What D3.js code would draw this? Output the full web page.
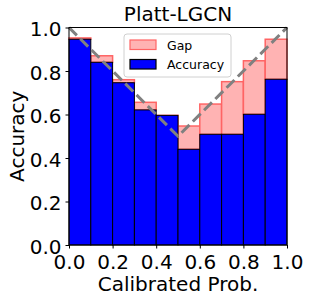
<!DOCTYPE html>
<html>
<head>
<meta charset="utf-8">
<script src="https://cdn.jsdelivr.net/npm/d3@7"></script>
<style>
  html, body { margin: 0; padding: 0; background: #fff; }
  svg text { font-family: "DejaVu Sans", sans-serif; fill: #000; }
</style>
</head>
<body>
<svg id="chart" width="309" height="301"></svg>
<script>
// bin lower edges, accuracy per bin, and bin confidence (top of the gap bar)
const binStarts = [0.0, 0.1, 0.2, 0.3, 0.4, 0.5, 0.6, 0.7, 0.8, 0.9];
const accuracy = [0.946, 0.840, 0.746, 0.621, 0.596, 0.440, 0.509, 0.509, 0.601, 0.762];
const confidence = [0.952, 0.870, 0.760, 0.656, 0.550, 0.547, 0.648, 0.751, 0.847, 0.946];
const tickValues = [0, 0.2, 0.4, 0.6, 0.8, 1.0];
const perfectLine = [[0, 1], [0.5, 0.5], [1, 1]];
const binWidth = 0.1;

const svg = d3.select("#chart");
const margin = { top: 27.5, right: 22, bottom: 56, left: 69 };
const width = 309 - margin.left - margin.right;
const height = 301 - margin.top - margin.bottom;

const x = d3.scaleLinear().domain([0, 1]).range([0, width]);
const y = d3.scaleLinear().domain([0, 1]).range([height, 0]);

const g = svg.append("g").attr("transform", `translate(${margin.left},${margin.top})`);

const bins = binStarts.map((s, i) => ({ s, acc: accuracy[i], conf: confidence[i] }));

// Gap bars first, accuracy on top of them
g.append("g").selectAll("rect")
  .data(bins)
  .join("rect")
  .attr("x", d => x(d.s))
  .attr("width", x(binWidth) - x(0))
  .attr("y", d => y(Math.max(d.acc, d.conf)))
  .attr("height", d => Math.abs(y(d.acc) - y(d.conf)))
  .attr("fill", "#ffb3b3")
  .attr("stroke", "#ff6464")
  .attr("stroke-width", 1.5);

g.append("g").selectAll("rect")
  .data(bins)
  .join("rect")
  .attr("x", d => x(d.s))
  .attr("width", x(binWidth) - x(0))
  .attr("y", d => y(d.acc))
  .attr("height", d => y(0) - y(d.acc))
  .attr("fill", "#0000ff")
  .attr("stroke", "#000")
  .attr("stroke-width", 1);

// Dashed perfect-calibration line
g.append("path")
  .datum(perfectLine)
  .attr("fill", "none")
  .attr("stroke", "#808080")
  .attr("stroke-width", 3)
  .attr("stroke-dasharray", "11.1,4.8")
  .attr("d", d3.line().x(d => x(d[0])).y(d => y(d[1])));

// Axes
const fmt = d3.format(".1f");
const xAxis = g.append("g")
  .attr("transform", `translate(0,${height})`)
  .call(d3.axisBottom(x).tickValues(tickValues).tickFormat(fmt).tickSize(3.5).tickPadding(6));
const yAxis = g.append("g")
  .call(d3.axisLeft(y).tickValues(tickValues).tickFormat(fmt).tickSize(3.5).tickPadding(4));
[xAxis, yAxis].forEach(a => {
  a.selectAll("text").style("font-size", "20px").attr("fill", "#000");
  a.selectAll("line").attr("stroke", "#000");
  a.select(".domain").remove();
});
yAxis.selectAll("text").attr("dy", "0.42em");

// Frame
g.append("rect")
  .attr("width", width).attr("height", height)
  .attr("fill", "none").attr("stroke", "#000").attr("stroke-width", 1);

// Title and axis labels
svg.append("text")
  .attr("x", margin.left + width / 2).attr("y", 21)
  .attr("text-anchor", "middle").style("font-size", "20px")
  .text("Platt-LGCN");
svg.append("text")
  .attr("x", margin.left + width / 2).attr("y", 291)
  .attr("text-anchor", "middle").style("font-size", "20px")
  .text("Calibrated Prob.");
svg.append("text")
  .attr("transform", `translate(24,${margin.top + height / 2}) rotate(-90)`)
  .attr("text-anchor", "middle").style("font-size", "20px")
  .text("Accuracy");

// Legend
const legend = svg.append("g").attr("transform", "translate(124,34)");
legend.append("rect")
  .attr("width", 107).attr("height", 43).attr("rx", 3)
  .attr("fill", "#fff").attr("fill-opacity", 0.8)
  .attr("stroke", "#d0d0d0").attr("stroke-width", 1);
const items = [
  { label: "Gap", fill: "#ffb3b3", stroke: "#ff6464" },
  { label: "Accuracy", fill: "#0000ff", stroke: "#000" }
];
items.forEach((it, i) => {
  const row = legend.append("g").attr("transform", `translate(6,${6 + i * 19.5})`);
  row.append("rect").attr("width", 26).attr("height", 9.5)
    .attr("fill", it.fill).attr("stroke", it.stroke).attr("stroke-width", 1.2);
  row.append("text").attr("x", 37).attr("y", 9.5)
    .style("font-size", "12.5px").text(it.label);
});
</script>
</body>
</html>
